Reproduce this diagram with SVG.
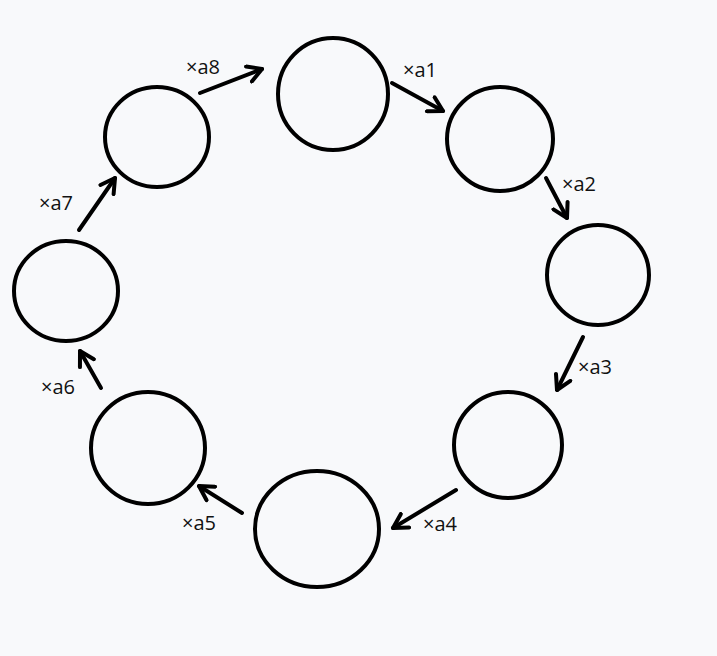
<svg xmlns="http://www.w3.org/2000/svg" width="717" height="656" viewBox="0 0 717 656">
<style>
.n{fill:none;stroke:#000;stroke-width:4}
.e{fill:none;stroke:#000;stroke-width:4;stroke-linecap:round;marker-end:url(#ah)}
.t{font-family:"Open Sans","DejaVu Sans",sans-serif;font-size:20px;fill:#111}
</style>
<defs>
<marker id="ah" viewBox="0 0 10 10" refX="8" refY="5" markerWidth="5" markerHeight="5" orient="auto" markerUnits="strokeWidth">
<path d="M1,1 L8,5 L1,9" fill="none" stroke="#000" stroke-width="2" stroke-linecap="round" stroke-linejoin="round"/>
</marker>
</defs>
<rect width="717" height="656" fill="#f8f9fb"/>
<g id="n1"><ellipse class="n" cx="333" cy="94" rx="55" ry="56"/></g>
<g id="n2"><ellipse class="n" cx="500" cy="139" rx="53" ry="52"/></g>
<g id="n3"><ellipse class="n" cx="598" cy="275" rx="51" ry="50"/></g>
<g id="n4"><ellipse class="n" cx="508" cy="445" rx="54" ry="53"/></g>
<g id="n5"><ellipse class="n" cx="317" cy="529" rx="62" ry="58"/></g>
<g id="n6"><ellipse class="n" cx="148" cy="448" rx="57" ry="56"/></g>
<g id="n7"><ellipse class="n" cx="66" cy="291" rx="52" ry="50"/></g>
<g id="n8"><ellipse class="n" cx="157" cy="137" rx="52" ry="50"/></g>
<g id="edges">
<line class="e" x1="392" y1="83" x2="443" y2="111"/>
<line class="e" x1="546" y1="178" x2="567" y2="218"/>
<line class="e" x1="583" y1="337" x2="557" y2="390"/>
<line class="e" x1="456" y1="490" x2="393" y2="528"/>
<line class="e" x1="242" y1="513" x2="199" y2="486"/>
<line class="e" x1="101" y1="388" x2="80" y2="351"/>
<line class="e" x1="79" y1="230" x2="115" y2="178"/>
<line class="e" x1="200" y1="93" x2="262" y2="69"/>
<text class="t" x="403" y="77">×a1</text>
<text class="t" x="562" y="191">×a2</text>
<text class="t" x="578" y="374">×a3</text>
<text class="t" x="423" y="531">×a4</text>
<text class="t" x="182" y="530">×a5</text>
<text class="t" x="41" y="394">×a6</text>
<text class="t" x="39" y="210">×a7</text>
<text class="t" x="186" y="74">×a8</text>
</g>
</svg>
